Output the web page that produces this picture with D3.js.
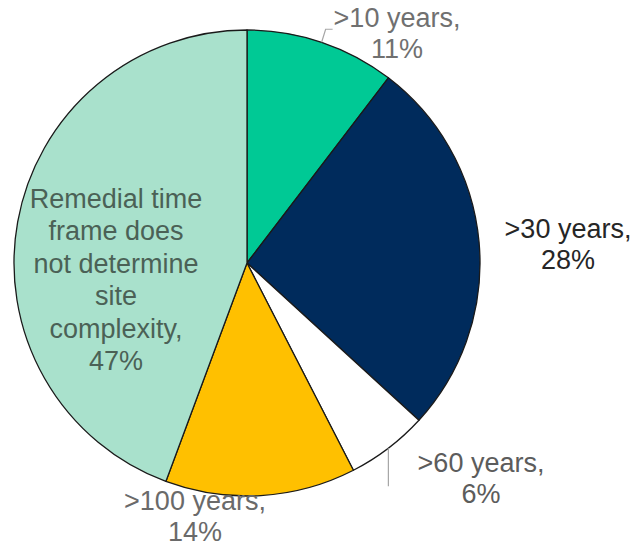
<!DOCTYPE html>
<html>
<head>
<meta charset="utf-8">
<title>Remedial time frame</title>
<script src="https://cdn.jsdelivr.net/npm/d3@7"></script>
<style>
    body { margin: 0; background: #fff; overflow: hidden; }
    text { font-family: "Liberation Sans", Arial, sans-serif; }
</style>
</head>
<body>
<div id="container"></div>
<script>
    // slices in clockwise order from 12 o'clock
    var categories = [">10 years", ">30 years", ">60 years", ">100 years", "Remedial time frame does not determine site complexity"];
    var values = [11, 28, 6, 14, 47];
    var colors = ["#00c995", "#002b5c", "#ffffff", "#ffc000", "#a9e1cc"];

    // label lines as shown in the picture
    var labelLines = [
        [">10 years,", "11%"],
        [">30 years,", "28%"],
        [">60 years,", "6%"],
        [">100 years,", "14%"],
        ["Remedial time", "frame does", "not determine", "site", "complexity,", "47%"]
    ];

    var width = 640, height = 550;
    var cx = 247, cy = 263, radius = 233;

    // where each label's first baseline sits, relative to pie centre
    var labelAt = [[150, -236], [321, -25], [234, 209], [-52, 247], [-131, -55]];
    var labelFill = ["#707070", "#262626", "#5c5c5c", "#6a6a6a", "#4b6156"];

    var svg = d3.select("#container").append("svg")
        .attr("width", width).attr("height", height);

    var g = svg.append("g").attr("transform", "translate(" + cx + "," + cy + ")");

    var pie = d3.pie().sort(null).value(function (d) { return d; });
    var arcs = pie(values);
    var arc = d3.arc().innerRadius(0).outerRadius(radius);

    g.selectAll("path.slice").data(arcs).enter().append("path")
        .attr("class", "slice")
        .attr("d", arc)
        .attr("fill", function (d, i) { return colors[i]; })
        .attr("stroke", "#1a1a1a")
        .attr("stroke-width", 1.3)
        .attr("stroke-linejoin", "round");

    function edgePoint(d) {
        var a = (d.startAngle + d.endAngle) / 2;
        return [radius * Math.sin(a), -radius * Math.cos(a)];
    }

    // leader lines for the two small outside labels
    var p0 = edgePoint(arcs[0]);
    g.append("path")
        .attr("d", "M" + p0[0] + "," + p0[1] + "L" + (p0[0] + 4) + "," + (p0[1] - 13) + "L" + (p0[0] + 11) + "," + (p0[1] - 13))
        .attr("fill", "none").attr("stroke", "#a6a6a6").attr("stroke-width", 1.2);

    var p2 = edgePoint(arcs[2]);
    g.append("path")
        .attr("d", "M" + p2[0] + "," + p2[1] + "L" + p2[0] + "," + (p2[1] + 38))
        .attr("fill", "none").attr("stroke", "#a6a6a6").attr("stroke-width", 1.2);

    var labels = g.selectAll("text.lbl").data(arcs).enter().append("text")
        .attr("class", "lbl")
        .attr("text-anchor", "middle")
        .attr("font-size", "27px")
        .attr("fill", function (d, i) { return labelFill[i]; })
        .attr("transform", function (d, i) { return "translate(" + labelAt[i][0] + "," + labelAt[i][1] + ")"; });

    labels.each(function (d, i) {
        var t = d3.select(this);
        labelLines[i].forEach(function (line, k) {
            t.append("tspan").attr("x", 0).attr("y", k * (i === 4 ? 32.4 : 30.5)).text(line);
        });
    });
</script>
</body>
</html>
